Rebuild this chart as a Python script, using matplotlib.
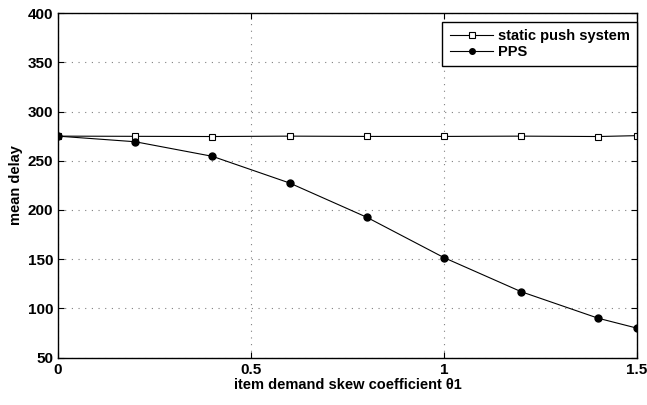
import numpy as np
import matplotlib.pyplot as plt

plt.rcParams["font.family"] = ["Liberation Sans", "DejaVu Sans"]
plt.rcParams["font.weight"] = "bold"

# data
theta = [0, 0.2, 0.4, 0.6, 0.8, 1.0, 1.2, 1.4, 1.5]
static_push = [275, 274.8, 274.6, 275, 274.7, 274.7, 275, 274.6, 275.5]
pps = [275, 269.3, 254.5, 227.4, 192.6, 151.6, 117, 90, 80]

fig = plt.figure(figsize=(6.47, 4.05), dpi=100)
ax = fig.add_axes([0.0896, 0.1168, 0.895, 0.851])

ax.plot(theta, static_push, color="black", lw=0.8, marker="s", ms=5,
        mfc="white", mec="black", mew=0.8, label="static push system")
ax.plot(theta, pps, color="black", lw=0.8, marker="o", ms=5,
        mfc="black", mec="black", label="PPS")

ax.set_xlim(0, 1.5)
ax.set_ylim(50, 400)
ax.set_xticks([0, 0.5, 1, 1.5], ["0", "0.5", "1", "1.5"])
ax.set_yticks(np.arange(50, 401, 50))
ax.grid(True, color="gray", linestyle=(0, (1, 5)), linewidth=0.8)
ax.tick_params(direction="in", labelsize=11, top=True, right=True, length=4)
for lbl in ax.get_xticklabels() + ax.get_yticklabels():
    lbl.set_fontweight("bold")
for s in ax.spines.values():
    s.set_linewidth(1.0)

ax.set_xlabel("item demand skew coefficient θ1", fontsize=10.5, fontweight="bold", labelpad=1)
ax.set_ylabel("mean delay", fontsize=10.5, fontweight="bold", labelpad=3)

leg = ax.legend(loc="upper right", bbox_to_anchor=(1.0, 0.975), fontsize=10.5,
                fancybox=False, framealpha=1, edgecolor="black", borderaxespad=0,
                handlelength=3.0, borderpad=0.5, labelspacing=0.15,
                handletextpad=0.3, markerscale=0.8)
leg.get_frame().set_linewidth(1.0)
for t in leg.get_texts():
    t.set_fontweight("bold")

plt.savefig("out.png")
